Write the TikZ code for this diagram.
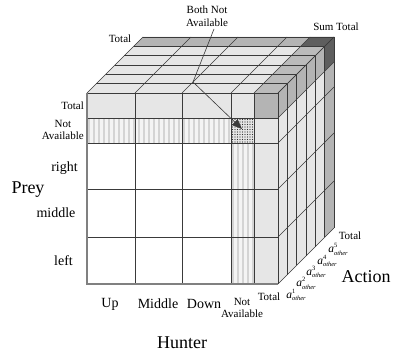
\documentclass[tikz,border=0pt]{standalone}
\usepackage{fontspec}
\setmainfont{Liberation Serif}
\usetikzlibrary{arrows.meta}
\definecolor{lg}{HTML}{E6E6E6}
\definecolor{mg}{HTML}{B4B4B4}
\definecolor{dg}{HTML}{5E5E5E}
\definecolor{ln}{HTML}{3A3A3A}
\definecolor{stripe}{HTML}{D4D4D4}
\definecolor{stripebg}{HTML}{F4F4F4}
\newcommand{\aoth}[1]{\textit{a}\rlap{\raisebox{5pt}{\fontsize{6.5}{7}\selectfont #1}}\raisebox{-2.5pt}{\fontsize{6.5}{7}\selectfont\textit{other}}}
\tikzset{
  gl/.style={draw=ln, line width=0.6pt},
  edge/.style={draw=black!50, line width=1.1pt},
  small/.style={font=\fontsize{11}{12.5}\selectfont, align=center, inner sep=0pt},
  mid/.style={font=\fontsize{14}{16}\selectfont, inner sep=0pt},
  big/.style={font=\fontsize{18}{20}\selectfont, inner sep=0pt},
  alab/.style={font=\fontsize{11.5}{12}\selectfont, inner sep=0pt},
}
\begin{document}
\begin{tikzpicture}[x=1pt,y=-1pt]
\useasboundingbox (0,0) rectangle (395,352);
\def\d{9.3333}
% ---------- front face ----------
\fill[white] (87,93) rectangle (278,284);
\fill[lg] (87,93) rectangle (254,118);
\fill[mg] (254,93) rectangle (278,118);
\fill[lg] (254,118) rectangle (278,284);
\fill[stripebg] (87,118) rectangle (231,143);
\foreach \x in {88,93,...,228} \fill[stripe] (\x,118) rectangle (\x+2,143);
\fill[stripebg] (231,143) rectangle (254,284);
\foreach \x in {232,237,...,252} \fill[stripe] (\x,143) rectangle (\x+2,284);
\fill[lg] (231,118) rectangle (254,143);
\foreach \x in {232.5,235,...,253} \foreach \y in {119.5,122,...,142}
  \fill[black!80] (\x,\y) circle (0.55);
% ---------- top face ----------
\fill[lg] (87,93) -- (254,93) -- (300.67,46.33) -- (133.67,46.33) -- cycle;
\fill[mg] (133.67,46.33) -- (300.67,46.33) -- (310,37) -- (143,37) -- cycle;
\fill[mg!90] (254,93) -- (278,93) -- (324.67,46.33) -- (300.67,46.33) -- cycle;
\fill[dg] (300.67,46.33) -- (324.67,46.33) -- (334,37) -- (310,37) -- cycle;
% ---------- side face ----------
\fill[mg] (278,93) -- (324.67,46.33) -- (324.67,71.33) -- (278,118) -- cycle;
\fill[dg] (324.67,46.33) -- (334,37) -- (334,62) -- (324.67,71.33) -- cycle;
\fill[lg] (278,118) -- (324.67,71.33) -- (324.67,237.33) -- (278,284) -- cycle;
\fill[mg] (324.67,71.33) -- (334,62) -- (334,228) -- (324.67,237.33) -- cycle;
% ---------- grid ----------
\foreach \x in {87,135,182,231,254,278} {
  \draw[gl] (\x,93) -- (\x,284);
  \draw[gl] (\x,93) -- (\x+56,37);
}
\foreach \y in {93,118,143,189,237,284} {
  \draw[gl] (87,\y) -- (278,\y);
  \draw[gl] (278,\y) -- (334,\y-56);
}
\foreach \k in {0,...,6} {
  \draw[gl] (87+\k*\d,93-\k*\d) -- (278+\k*\d,93-\k*\d);
  \draw[gl] (278+\k*\d,93-\k*\d) -- (278+\k*\d,284-\k*\d);
}
\draw[edge] (87,93) -- (87,284) -- (278,284);
% ---------- annotation ----------
\node[small] (both) at (207,16) {Both Not\\Available};
\coordinate (lt) at (214,29);
\coordinate (pk) at (193,82);
\coordinate (tg) at (242,129);
\draw[ln, line width=0.6pt] (lt) -- (pk);
\draw[ln, line width=0.6pt, -{Triangle[length=10pt,width=8pt]}] (pk) -- (tg);
% ---------- labels ----------
\node[small] (ttop) at (120,39) {Total};
\node[small] (sumt) at (336,27) {Sum Total};
\node[small, anchor=east] (ltot) at (84,106) {Total};
\node[small, anchor=east] (lna) at (84,130) {Not\\Available};
\node[mid] (lr) at (64.5,168) {right};
\node[mid] (lm) at (56,213) {middle};
\node[mid] (ll) at (63.5,261) {left};
\node[big] (prey) at (28,190) {Prey};
\node[mid] (bup) at (110,304) {Up};
\node[mid] (bmid) at (158,304) {Middle};
\node[mid] (bdown) at (204,304) {Down};
\node[small] (bna) at (242,308) {Not\\Available};
\node[small] (btot) at (269,297) {Total};
\node[big] (hunter) at (182,343) {Hunter};
\node[big] (action) at (366,277) {Action};
\node[alab] (a1) at (296,295) {\aoth{1}};
\node[alab] (a2) at (306,283.5) {\aoth{2}};
\node[alab] (a3) at (316,272) {\aoth{3}};
\node[alab] (a4) at (327,261) {\aoth{4}};
\node[alab] (a5) at (338,249.5) {\aoth{5}};
\node[small] (atot) at (350,236) {Total};
\end{tikzpicture}
\end{document}
